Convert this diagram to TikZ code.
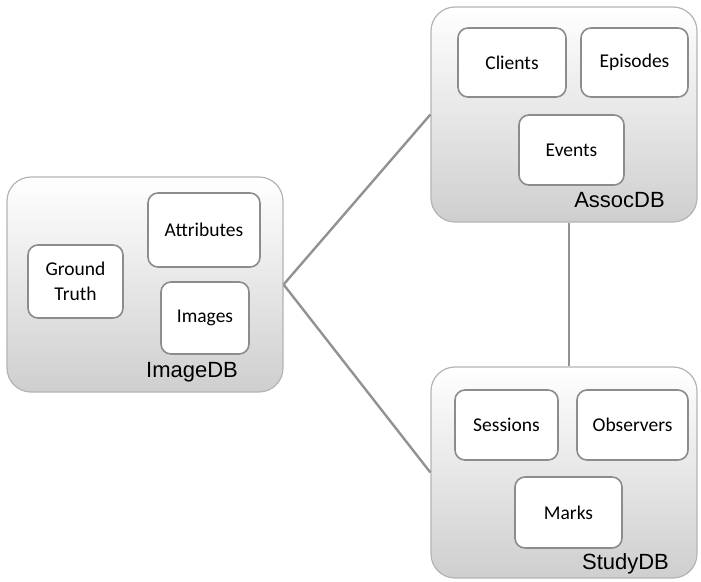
\documentclass[tikz,border=0pt]{standalone}
\usepackage{fontspec}
\setmainfont{Carlito}
\newfontfamily\labelfont{Liberation Sans}
\usetikzlibrary{calc}
\definecolor{outerline}{HTML}{B4B4B4}
\definecolor{innerline}{HTML}{8C8C8C}
\definecolor{connline}{HTML}{929292}
\tikzset{
  dbbox/.style={draw=outerline, line width=1.2pt, rounded corners=24pt,
    top color=white, bottom color=black!19, inner sep=0pt},
  tablebox/.style={draw=innerline, line width=1.6pt, rounded corners=10pt,
    fill=white, inner sep=0pt, align=center,
    font=\fontsize{19.5}{25}\selectfont},
  dblabel/.style={anchor=base, inner sep=0pt, font=\labelfont\fontsize{22}{24}\selectfont},
  conn/.style={draw=connline, line width=2.4pt}
}
\begin{document}
\begin{tikzpicture}[x=1pt,y=-1pt]
\useasboundingbox (0,0) rectangle (701,581);
% outer database boxes
\node[dbbox, minimum width=276pt, minimum height=215pt] (ImageDB) at (145,284.5) {};
\node[dbbox, minimum width=266pt, minimum height=215pt] (AssocDB) at (564,114.5) {};
\node[dbbox, minimum width=266pt, minimum height=211pt] (StudyDB) at (564,472.5) {};
% ImageDB tables
\node[tablebox, minimum width=112pt, minimum height=74pt] (Attributes) at (204,230) {Attributes};
\node[tablebox, minimum width=95pt, minimum height=73pt] (GroundTruth) at (75.5,281.5) {Ground\\Truth};
\node[tablebox, minimum width=88pt, minimum height=72pt] (Images) at (205,318) {Images};
\node[dblabel] (ImageDBlabel) at (192,377) {ImageDB};
% AssocDB tables
\node[tablebox, minimum width=108pt, minimum height=69pt] (Clients) at (512,62.5) {Clients};
\node[tablebox, minimum width=107pt, minimum height=69pt] (Episodes) at (634.5,62.5) {Episodes};
\node[tablebox, minimum width=105pt, minimum height=70pt] (Events) at (571.5,150) {Events};
\node[dblabel] (AssocDBlabel) at (619.5,207) {AssocDB};
% StudyDB tables
\node[tablebox, minimum width=103pt, minimum height=70pt] (Sessions) at (506.5,425) {Sessions};
\node[tablebox, minimum width=111pt, minimum height=70pt] (Observers) at (632.5,425) {Observers};
\node[tablebox, minimum width=107pt, minimum height=71pt] (Marks) at (568.5,512.5) {Marks};
\node[dblabel] (StudyDBlabel) at (625.5,569) {StudyDB};
% connectors
\draw[conn] (ImageDB.east) -- (AssocDB.west);
\draw[conn] (ImageDB.east) -- (StudyDB.west);
\draw[conn] ([xshift=5pt]AssocDB.south) -- ([xshift=5pt]StudyDB.north);
\end{tikzpicture}
\end{document}
